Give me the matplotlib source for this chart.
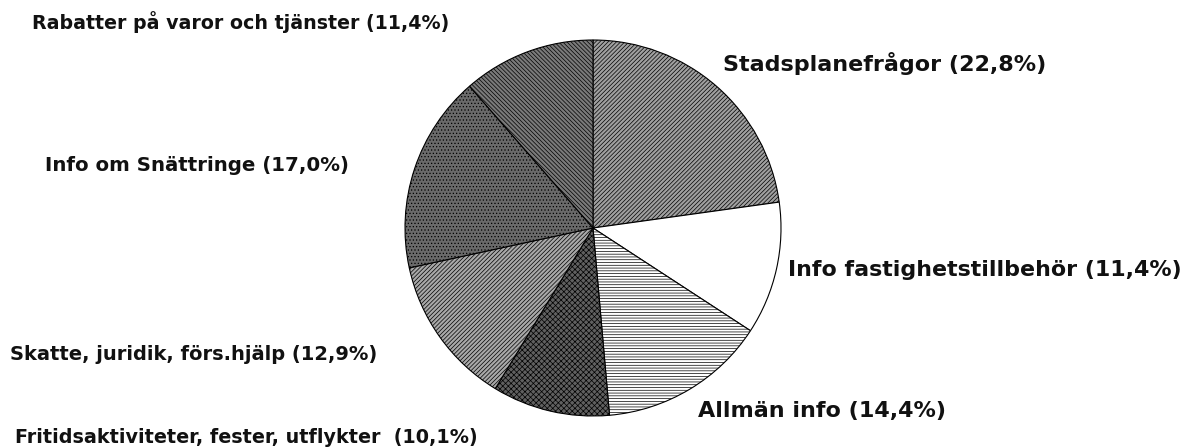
import matplotlib
matplotlib.use("Agg")
import matplotlib.pyplot as plt

categories = ["Stadsplanefrågor", "Info fastighetstillbehör", "Allmän info",
              "Fritidsaktiviteter, fester, utflykter ", "Skatte, juridik, förs.hjälp",
              "Info om Snättringe", "Rabatter på varor och tjänster"]
values = [22.8, 11.4, 14.4, 10.1, 12.9, 17.0, 11.4]
labels = [f"{c} ({str(v).replace('.', ',')}%)" for c, v in zip(categories, values)]

faces = ["#a0a0a0", "white", "white", "#606060", "#a8a8a8", "#6a6a6a", "#7a7a7a"]
hatches = ["////////", None, "------", "xxxxxx", "////////", ".....", "\\\\\\\\\\\\\\\\"]

# label anchor positions in pixel coords (from top-left) and sizes
label_pos = [(723, 63), (788, 270), (698, 411), (15, 437), (10, 355), (45, 165), (32, 22)]
label_size = [16, 15.9, 16, 13.8, 14, 14.2, 13.7]

W, H = 1190, 448
fig = plt.figure(figsize=(W / 100, H / 100), dpi=100)
ax = fig.add_axes([0, 0, 1, 1])

plt.rcParams["hatch.linewidth"] = 0.5
wedges, _ = ax.pie(values, startangle=90, counterclock=False,
                   center=(593, H - 228), radius=188,
                   wedgeprops=dict(edgecolor="black", linewidth=0.8),
                   frame=True)
for w, fc, h in zip(wedges, faces, hatches):
    w.set_facecolor(fc)
    if h:
        w.set_hatch(h)
ax.set_xlim(0, W)
ax.set_ylim(0, H)
ax.set_aspect("equal")
ax.axis("off")

for lab, (x, y), s in zip(labels, label_pos, label_size):
    ax.text(x, H - y, lab, ha="left", va="center", fontsize=s,
            fontweight="bold", family="DejaVu Sans", color="#111111")

fig.savefig("out.png", dpi=100)
